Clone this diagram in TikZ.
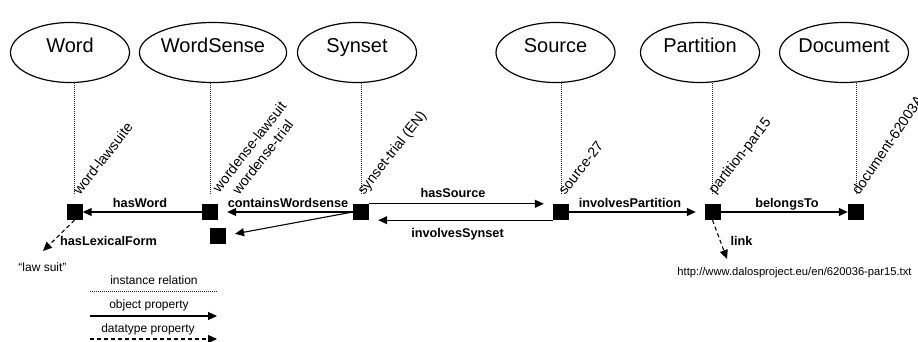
\documentclass[tikz,border=0pt]{standalone}
\usepackage{fontspec}
\setmainfont{Liberation Sans}
\usetikzlibrary{arrows.meta,shapes.geometric}
\begin{document}
\begin{tikzpicture}[x=1pt,y=-1pt,
  cls/.style={draw,ellipse,line width=1.2pt,minimum width=119pt,minimum height=60pt,inner sep=0pt,
    text height=14.3pt,text depth=13.3pt,font=\fontsize{20}{24}\selectfont},
  inst/.style={fill=black,minimum size=16pt,inner sep=0pt},
  inrel/.style={line width=1pt,dash pattern=on 1pt off 1pt,draw=black!85},
  obj/.style={line width=1.1pt,-{Triangle[length=9pt,width=8pt]}},
  dt/.style={line width=1.1pt,dash pattern=on 4pt off 3pt,-{Triangle[length=9pt,width=8pt]}},
  plabel/.style={anchor=base,inner sep=0pt,font=\fontsize{12.7}{15}\bfseries\selectfont},
  rlabel/.style={rotate=52,anchor=base west,inner sep=0pt,font=\fontsize{14.2}{17}\selectfont},
  legtext/.style={anchor=base,inner sep=0pt,font=\fontsize{12}{14}\selectfont},
]
\useasboundingbox (0,0) rectangle (918,342);

% classes
\node[cls] (word) at (70,52.5) {Word};
\node[cls] (wordsense) at (213,52.5) {WordSense};
\node[cls] (synset) at (357,52.5) {Synset};
\node[cls] (source) at (555.5,52.5) {Source};
\node[cls] (partition) at (700,52.5) {Partition};
\node[cls] (document) at (844,52.5) {Document};

% instances
\node[inst] (wsq) at (74.5,212) {};
\node[inst] (wssq) at (210,212) {};
\node[inst] (ws2) at (218,235.5) {};
\node[inst] (ssq) at (361,212) {};
\node[inst] (srcsq) at (561,212) {};
\node[inst] (psq) at (712.5,212) {};
\node[inst] (dsq) at (856,212) {};

% instance relations
\draw[inrel,shorten >=9pt] (wsq |- word.south) -- (wsq.north);
\draw[inrel,shorten >=9pt] (wssq |- wordsense.south) -- (wssq.north);
\draw[inrel,shorten >=9pt] (ssq |- synset.south) -- (ssq.north);
\draw[inrel,shorten >=9pt] (srcsq |- source.south) -- (srcsq.north);
\draw[inrel,shorten >=9pt] (psq |- partition.south) -- (psq.north);
\draw[inrel,shorten >=9pt] (dsq |- document.south) -- (dsq.north);

% instance names
\node[rlabel] (lwl) at (80,196) {word-lawsuite};
\node[rlabel,anchor=south west,align=center] (lwsl) at (233,204) {wordense-lawsuit\\wordense-trial};
\node[rlabel] (lst) at (364,196) {synset-trial (EN)};
\node[rlabel] (ls27) at (565,196) {source-27};
\node[rlabel] (lpp) at (715,195) {partition-par15};
\node[rlabel,rotate=4] (ldoc) at (859,196) {document-62003A};

% object properties
\draw[obj] (wssq.west) -- (wsq.east);
\node[plabel] (hasword) at (140,207) {hasWord};
\draw[obj,shorten >=9pt] (ssq.west) -- (wssq.east);
\node[plabel] (contains) at (288,207) {containsWordsense};
\draw[obj,shorten >=9pt] (ssq.west) -- (ws2.east);
\draw[obj,shorten >=9pt] (ssq.north east) -- (srcsq.north west);
\node[plabel] (hassource) at (453,197) {hasSource};
\draw[obj,shorten >=9pt] (srcsq.south west) -- (ssq.south east);
\node[plabel] (involvessynset) at (457.5,237) {involvesSynset};
\draw[obj,shorten >=8.5pt] (srcsq.east) -- (psq.west);
\node[plabel] (involvespartition) at (630,207) {involvesPartition};
\draw[obj] (psq.east) -- (dsq.west);
\node[plabel] (belongsto) at (787,207) {belongsTo};

% datatype properties
\coordinate (lexend) at (43,251);
\draw[dt] (wsq.south) -- (lexend);
\node[plabel] (haslex) at (108.5,245) {hasLexicalForm};
\node[legtext] (lawsuit) at (42.5,271) {“law suit”};
\coordinate (linkend) at (727,259);
\draw[dt] (psq.south) -- (linkend);
\node[plabel] (link) at (741.5,245) {link};
\node[anchor=base,inner sep=0pt,font=\fontsize{11.2}{13}\selectfont] (url) at (794.5,275.5) {http://www.dalosproject.eu/en/620036-par15.txt};

% legend
\node[legtext] (leg1) at (154,284) {instance relation};
\coordinate (l1a) at (90,291); \coordinate (l1b) at (218,291);
\draw[inrel] (l1a) -- (l1b);
\node[legtext] (leg2) at (149,308) {object property};
\coordinate (l2a) at (90,316); \coordinate (l2b) at (217,316);
\draw[obj] (l2a) -- (l2b);
\node[legtext] (leg3) at (148,332) {datatype property};
\coordinate (l3a) at (90,339); \coordinate (l3b) at (217,339);
\draw[dt] (l3a) -- (l3b);
\end{tikzpicture}
\end{document}
